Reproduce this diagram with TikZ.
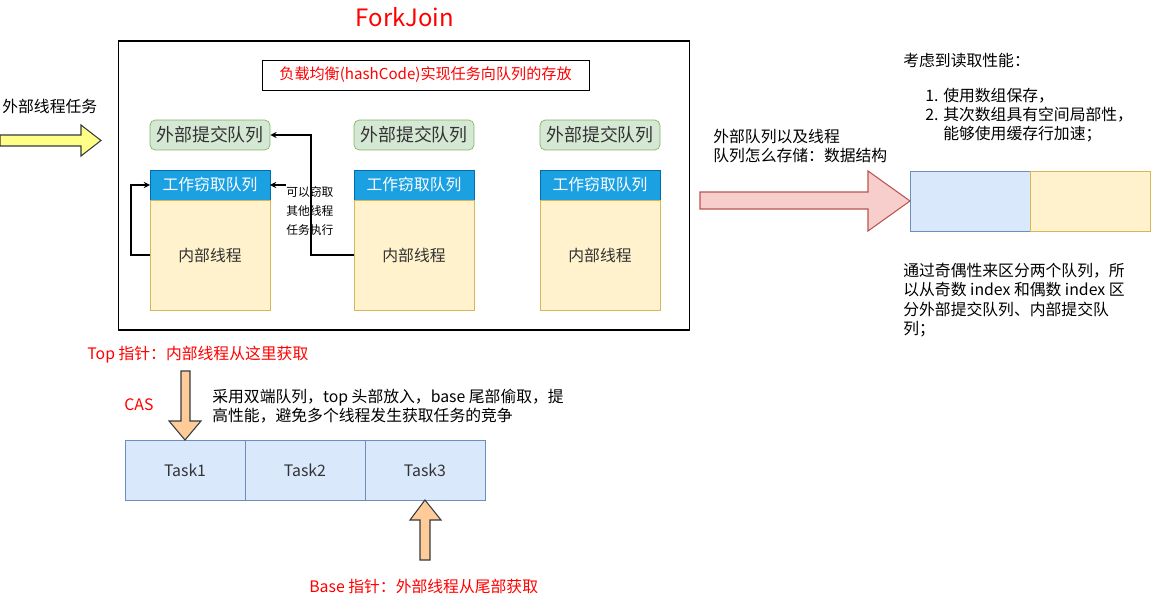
\documentclass[tikz,border=0pt]{standalone}
\usepackage{fontspec}
\setmainfont{Noto Sans CJK SC}
\usepackage{xcolor}
\usetikzlibrary{arrows,positioning,calc}

\definecolor{subfill}{HTML}{D5E8D4}
\definecolor{subline}{HTML}{82B366}
\definecolor{wsqfill}{HTML}{1BA1E2}
\definecolor{wsqline}{HTML}{006EAF}
\definecolor{thrfill}{HTML}{FFF2CC}
\definecolor{thrline}{HTML}{D6B656}
\definecolor{taskfill}{HTML}{DAE8FC}
\definecolor{taskline}{HTML}{6C8EBF}
\definecolor{pinkfill}{HTML}{F8CECC}
\definecolor{pinkline}{HTML}{B85450}
\definecolor{orfill}{HTML}{FFCC99}
\definecolor{yelfill}{HTML}{FFFF88}
\definecolor{darkline}{HTML}{36393D}
\definecolor{txtgray}{HTML}{333333}

\tikzset{
  every node/.style={font=\fontsize{9}{11}\selectfont, inner sep=0pt},
  txt/.style={text=black},
  redtxt/.style={text=red},
  subq/.style={draw=subline, fill=subfill, rounded corners=3pt, minimum width=2.4cm, minimum height=0.6cm, text=txtgray, font=\fontsize{10.2}{12}\selectfont},
  wsq/.style={draw=wsqline, fill=wsqfill, minimum width=2.4cm, minimum height=0.6cm, outer sep=0pt, text=white},
  thr/.style={draw=thrline, fill=thrfill, minimum width=2.4cm, minimum height=2.2cm, outer sep=0pt, text=txtgray},
  task/.style={draw=taskline, fill=taskfill, minimum width=2.4cm, minimum height=1.2cm, outer sep=0pt, text=txtgray},
  slot/.style={minimum width=2.4cm, minimum height=1.2cm, outer sep=0pt},
  lbbox/.style={draw=black, minimum width=6.54cm, minimum height=0.6cm, text=red, font=\fontsize{8.6}{11}\selectfont},
  frame/.style={draw=black, line width=0.6pt, minimum width=11.44cm, minimum height=5.78cm},
  link/.style={draw=black, line width=0.6pt, -stealth},
  blockarrow/.style={line width=0.6pt, line join=miter}
}

\begin{document}
\begin{tikzpicture}[x=0.02cm,y=-0.02cm]
\useasboundingbox (0,0) rectangle (1151,601);
% nodes
\node[redtxt, font=\fontsize{13.6}{16}\selectfont] (title) at (405,17) {ForkJoin};
\node[frame] (pool) at (404,185.5) {};
\node[lbbox] (lb) at (425.5,75) {负载均衡(hashCode)实现任务向队列的存放};
\node[txt, anchor=west] (ext) at (2,106) {外部线程任务};

\node[subq] (sub1) at (210,135) {外部提交队列};
\node[subq] (sub2) at (414,135) {外部提交队列};
\node[subq] (sub3) at (600,135) {外部提交队列};
\node[wsq] (wsq1) at (210,185) {工作窃取队列};
\node[wsq] (wsq2) at (414,185) {工作窃取队列};
\node[wsq] (wsq3) at (600,185) {工作窃取队列};
\node[thr, below=0pt of wsq1] (thr1) {内部线程};
\node[thr, below=0pt of wsq2] (thr2) {内部线程};
\node[thr, below=0pt of wsq3] (thr3) {内部线程};
\node[txt, anchor=west, align=left, font=\fontsize{6.7}{10.8}\selectfont] (steal) at (286,211) {可以窃取\\其他线程\\任务执行};

\node[txt, anchor=west, align=left] (store) at (713,146) {外部队列以及线程\\队列怎么存储：数据结构};
\node[slot, draw=taskline, fill=taskfill] (even) at (970,201) {};
\node[slot, draw=thrline, fill=thrfill, right=0pt of even] (odd) {};
\node[txt, anchor=west] (perf) at (903,61) {考虑到读取性能：};
\node[txt, anchor=west, align=left] (plist) at (925,115) {1. 使用数组保存，\\2. 其次数组具有空间局部性，\\\phantom{2. }能够使用缓存行加速；};
\node[txt, anchor=west, align=left] (parity) at (903,300) {通过奇偶性来区分两个队列，所\\以从奇数 index 和偶数 index 区\\分外部提交队列、内部提交队\\列；};

\node[redtxt, anchor=west] (top) at (87,355) {Top 指针：内部线程从这里获取};
\node[redtxt, anchor=west] (cas) at (124,405) {CAS};
\node[txt, anchor=west, align=left] (deque) at (212,406) {采用双端队列，top 头部放入，base 尾部偷取，提\\高性能，避免多个线程发生获取任务的竞争};
\node[task] (t1) at (185,470) {Task1};
\node[task, right=0pt of t1] (t2) {Task2};
\node[task, right=0pt of t2] (t3) {Task3};
\node[redtxt, anchor=west] (base) at (309,586) {Base 指针：外部线程从尾部获取};

% edges
\draw[link] (thr1.west) -- ++(-19,0) |- (wsq1.west);
\draw[link] (thr2.west) -- ++(-43,0) |- (sub1.east);
\draw[link] (steal.west |- wsq1.east) -- (wsq1.east);

% block arrows
\draw[blockarrow, draw=darkline, fill=yelfill] (0,135) -- (81,135) -- (81,125) -- (101,140.5) -- (81,156) -- (81,146) -- (0,146) -- cycle;
\draw[blockarrow, draw=pinkline, fill=pinkfill] (700,192) -- (868,192) -- (868,171) -- (even.west) -- (868,231) -- (868,209) -- (700,209) -- cycle;
\draw[blockarrow, draw=darkline, fill=orfill] (181,371) -- (190,371) -- (190,421) -- (201,421) -- (t1.north) -- (169,421) -- (181,421) -- cycle;
\draw[blockarrow, draw=darkline, fill=orfill] (420,560) -- (430,560) -- (430,520) -- (441,520) -- (t3.south) -- (410,520) -- (420,520) -- cycle;
\end{tikzpicture}
\end{document}
